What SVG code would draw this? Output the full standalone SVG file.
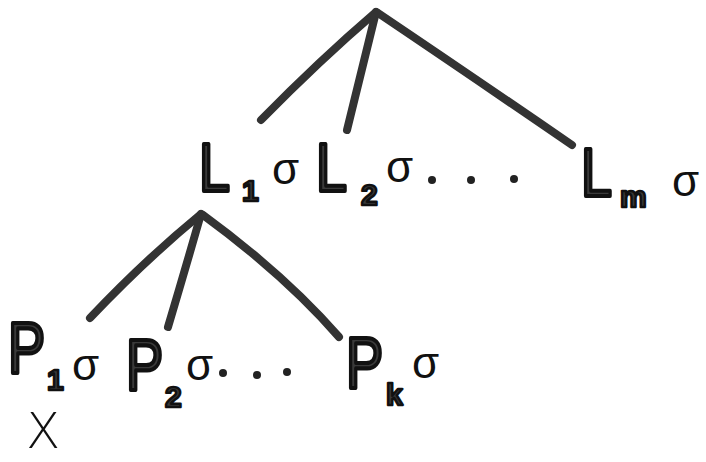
<svg xmlns="http://www.w3.org/2000/svg" width="706" height="462" viewBox="0 0 706 462">
<style>
.edge{fill:none;stroke:#333;stroke-width:8;stroke-linecap:round;stroke-linejoin:round}
.big{font-family:"Liberation Sans",Arial,sans-serif;font-size:68px;fill:#3a3a3a;stroke:#111;stroke-width:4;stroke-linejoin:round}
.sub{font-family:"Liberation Sans",Arial,sans-serif;font-size:30px;font-weight:bold;fill:#3a3a3a;stroke:#111;stroke-width:2.5;stroke-linejoin:round}
.sig{font-family:"Liberation Sans",Arial,sans-serif;font-size:44px;fill:#111}
.dot{fill:#222}
.x{font-family:"DejaVu Sans",sans-serif;font-size:50px;font-weight:200;fill:#111}
</style>
<rect width="706" height="462" fill="#fff"/>
<g id="connectors">
<path class="edge" d="M376 12 Q320 60 261 120"/>
<path class="edge" d="M376 12 Q362 70 347 130"/>
<path class="edge" d="M378 13 Q470 75 572 145"/>
<path class="edge" d="M201 214 Q145 260 90 318"/>
<path class="edge" d="M201 214 Q185 270 168 327"/>
<path class="edge" d="M203 215 Q285 275 339 337"/>
</g>
<g id="L1">
<text class="big" transform="translate(199 191) scale(0.82 1)">L</text>
<text class="sub" x="242" y="201">1</text>
<text class="sig" x="272" y="184">σ</text>
</g>
<g id="L2">
<text class="big" transform="translate(316 191) scale(0.82 1)">L</text>
<text class="sub" x="361" y="205">2</text>
<text class="sig" x="386" y="182">σ</text>
</g>
<g id="dots1">
<circle class="dot" cx="432" cy="180" r="4"/>
<circle class="dot" cx="471" cy="180" r="4"/>
<circle class="dot" cx="514" cy="179" r="4"/>
</g>
<g id="Lm">
<text class="big" transform="translate(581 196) scale(0.82 1)">L</text>
<text class="sub" x="620" y="207">m</text>
<text class="sig" x="672" y="196">σ</text>
</g>
<g id="P1">
<text class="big" transform="translate(8 373) scale(0.82 1.05)">P</text>
<text class="sub" x="47" y="390">1</text>
<text class="sig" x="72" y="380">σ</text>
</g>
<g id="P2">
<text class="big" transform="translate(126 390) scale(0.82 1.05)">P</text>
<text class="sub" x="165" y="407">2</text>
<text class="sig" x="186" y="380">σ</text>
</g>
<g id="dots2">
<circle class="dot" cx="223" cy="373" r="4"/>
<circle class="dot" cx="257" cy="375" r="4"/>
<circle class="dot" cx="287" cy="372" r="4"/>
</g>
<g id="Pk">
<text class="big" transform="translate(346 388) scale(0.82 1.05)">P</text>
<text class="sub" x="386" y="405">k</text>
<text class="sig" x="412" y="378">σ</text>
</g>
<g id="X">
<text class="x" x="26" y="448">X</text>
</g>
</svg>
